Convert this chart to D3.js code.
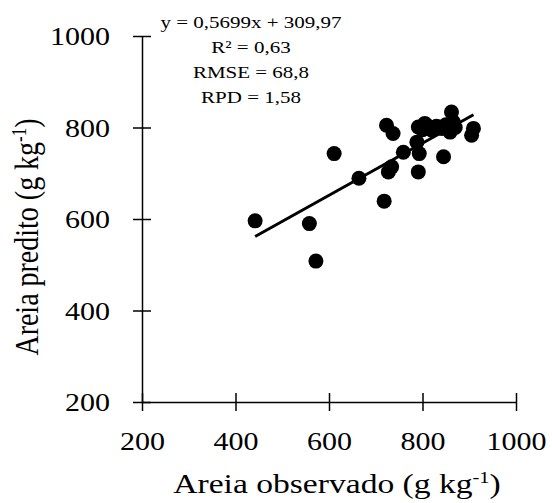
<!DOCTYPE html>
<html>
  <head>
    <meta charset="UTF-8">
    <title>Areia observado x predito</title>
	<script type="text/javascript" src="https://cdn.jsdelivr.net/npm/d3@7/dist/d3.min.js"></script>
	<style>
		body { margin: 0; background: #fff; }
		text { font-family: "Liberation Serif", "Times New Roman", serif; fill: #000; }
	</style>
  </head>
  <body>
    <svg width="552" height="503"></svg>
    <script>
    	// dados
    	var observado = [442, 558, 572, 611, 664, 718, 723, 737, 727, 734, 759, 788, 793, 791, 791,
    		805, 820, 841, 859, 862, 845, 909, 905, 812, 830, 850, 866, 870, 800];
    	var predito = [596, 590, 508, 743, 689, 639, 805, 787, 703, 714, 746, 768, 743, 703, 801,
    		809, 794, 798, 790, 834, 736, 798, 783, 803, 803, 806, 812, 800, 795];
    	var xTicks = [200, 400, 600, 800, 1000];
    	var yTicks = [200, 400, 600, 800, 1000];
    	var coef = [0.5699, 309.97];
    	var anotacao = ["y = 0,5699x + 309,97", "R² = 0,63", "RMSE = 68,8", "RPD = 1,58"];

    	var sx = 1.2; // figura original esticada na horizontal

    	var svg = d3.select("svg");
    	var xScale = d3.scaleLinear().domain([200, 1000]).range([142, 516]);
    	var yScale = d3.scaleLinear().domain([200, 1000]).range([402, 36]);

    	var xAxis = d3.axisBottom(xScale).tickValues(xTicks).tickSizeInner(9).tickSizeOuter(0).tickFormat(d3.format("d"));
    	var yAxis = d3.axisLeft(yScale).tickValues(yTicks).tickSizeInner(9).tickSizeOuter(0).tickFormat(d3.format("d"));

    	var gx = svg.append("g")
    		.attr("transform", "translate(0," + yScale(200) + ")")
    		.call(xAxis)
    		.attr("font-family", null).attr("font-size", null);
    	gx.selectAll("line").attr("y1", -9).attr("stroke-width", 1.5);
    	gx.selectAll("text")
    		.attr("y", 30).attr("dy", "0.71em")
    		.attr("transform", "scale(" + sx + ",1)")
    		.style("font-size", "25px");

    	var gy = svg.append("g")
    		.attr("transform", "translate(" + xScale(200) + ",0)")
    		.call(yAxis)
    		.attr("font-family", null).attr("font-size", null);
    	gy.selectAll("line").attr("x1", 9).attr("stroke-width", 1.5);
    	gy.selectAll("text")
    		.attr("x", -32 / sx).attr("dy", "0.34em")
    		.attr("transform", "scale(" + sx + ",1)")
    		.style("font-size", "25px");

    	svg.selectAll(".domain").attr("stroke-width", 1.5);

    	// linha de regressao
    	var xmin = d3.min(observado), xmax = d3.max(observado);
    	svg.append("line")
    		.attr("x1", xScale(xmin)).attr("y1", yScale(coef[0] * xmin + coef[1]))
    		.attr("x2", xScale(xmax)).attr("y2", yScale(coef[0] * xmax + coef[1]))
    		.attr("stroke", "#000")
    		.attr("stroke-width", 3);

    	// pontos
    	svg.selectAll(".pt")
    		.data(observado)
    		.enter()
    		.append("circle")
    		.attr("cx", function(d) { return xScale(d); })
    		.attr("cy", function(d, i) { return yScale(predito[i]); })
    		.attr("r", 7.5)
    		.attr("fill", "#000");

    	// equacao e estatisticas
    	svg.selectAll(".eq")
    		.data(anotacao)
    		.enter()
    		.append("text")
    		.attr("transform", function(d, i) { return "translate(251," + (28 + i * 25) + ") scale(" + sx + ",1)"; })
    		.attr("text-anchor", "middle")
    		.style("font-size", "17.5px")
    		.text(function(d) { return d; });

    	// titulos dos eixos
    	var tx = svg.append("text")
    		.attr("transform", "translate(337,493) scale(" + sx + ",1)")
    		.attr("text-anchor", "middle")
    		.style("font-size", "28px");
    	tx.append("tspan").text("Areia observado (g kg");
    	tx.append("tspan").attr("dy", -10).style("font-size", "17px").text("-1");
    	tx.append("tspan").attr("dy", 10).text(")");

    	var ty = svg.append("text")
    		.attr("transform", "translate(38,237) scale(" + sx + ",1) rotate(-90)")
    		.attr("text-anchor", "middle")
    		.style("font-size", "28px");
    	ty.append("tspan").text("Areia predito (g kg");
    	ty.append("tspan").attr("dy", -10).style("font-size", "17px").text("-1");
    	ty.append("tspan").attr("dy", 10).text(")");
    </script>
  </body>
</html>
